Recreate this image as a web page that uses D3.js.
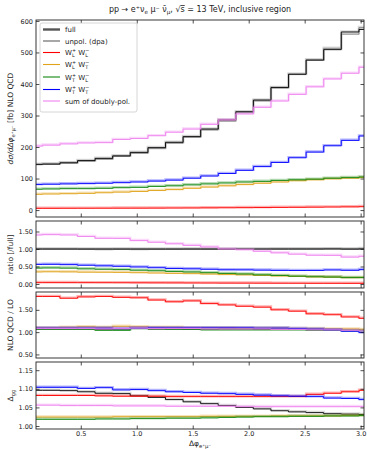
<!DOCTYPE html>
<html>
<head>
<meta charset="utf-8">
<script src="https://cdn.jsdelivr.net/npm/d3@7"></script>
<style>
  body { margin: 0; background: #fff; }
  text { font-family: "DejaVu Sans", sans-serif; fill: #222; }
</style>
</head>
<body>
<svg id="chart" width="367" height="449"></svg>
<script>
// bin edges of delta phi (20 bins of pi/20)
const binEdges = [0, 0.157, 0.314, 0.471, 0.628, 0.785, 0.942, 1.100, 1.257, 1.414, 1.571,
                  1.728, 1.885, 2.042, 2.199, 2.356, 2.513, 2.670, 2.827, 2.985, 3.142];

// NLO QCD distributions [fb]
const full  = [145, 146, 150, 157, 164, 172, 183, 198, 215, 233, 257, 286, 312, 349, 389, 431, 476, 509, 565, 573];
const unpol = [144, 145, 149, 155, 161, 170, 180, 195, 212, 231, 254, 282, 309, 346, 387, 430, 475, 513, 558, 579];
const wLL   = [5.5, 5.6, 5.7, 5.8, 5.9, 6.0, 6.1, 6.3, 6.5, 6.7, 7.0, 7.3, 7.6, 8.0, 8.4, 8.8, 9.2, 9.7, 10.2, 10.8];
const wLT   = [50, 51, 52, 53, 55, 57, 59, 62, 65, 69, 73, 77, 81, 85, 89, 93, 96, 99, 101, 103];
const wTL   = [66, 67, 68, 68, 69, 71, 72, 75, 77, 80, 83, 86, 89, 91, 94, 96, 98, 101, 103, 105];
const wTT   = [81, 82, 83, 84, 85, 87, 89, 92, 95, 101, 108, 116, 126, 138, 151, 166, 184, 204, 221, 235];
const sumPol = [203, 206, 210, 213, 214, 224, 227, 236, 247, 257, 272, 286, 305, 326, 346, 367, 391, 416, 434, 453];

// NLO QCD / LO
const kFull = [1.07, 1.07, 1.07, 1.07, 1.06, 1.07, 1.08, 1.07, 1.07, 1.06, 1.06, 1.07, 1.07, 1.06, 1.06, 1.06, 1.05, 1.05, 1.04, 1.04];
const kLL   = [1.80, 1.80, 1.76, 1.79, 1.80, 1.78, 1.77, 1.72, 1.68, 1.70, 1.64, 1.61, 1.58, 1.56, 1.50, 1.47, 1.41, 1.39, 1.34, 1.31];
const kLT   = [1.10, 1.10, 1.11, 1.12, 1.11, 1.13, 1.12, 1.11, 1.11, 1.10, 1.10, 1.10, 1.09, 1.09, 1.09, 1.08, 1.08, 1.07, 1.07, 1.06];
const kTL   = [1.06, 1.06, 1.06, 1.06, 1.04, 1.04, 1.08, 1.07, 1.06, 1.06, 1.05, 1.05, 1.05, 1.05, 1.05, 1.05, 1.04, 1.04, 1.03, 1.03];
const kTT   = [1.09, 1.09, 1.09, 1.09, 1.09, 1.08, 1.09, 1.10, 1.10, 1.10, 1.10, 1.10, 1.10, 1.09, 1.09, 1.08, 1.07, 1.05, 1.02, 0.99];
const kSum  = [1.08, 1.08, 1.08, 1.08, 1.07, 1.08, 1.09, 1.08, 1.08, 1.08, 1.07, 1.07, 1.07, 1.07, 1.06, 1.06, 1.05, 1.05, 1.04, 1.03];

// Delta_gg
const gFull = [1.096, 1.096, 1.095, 1.092, 1.088, 1.087, 1.081, 1.077, 1.071, 1.065, 1.060, 1.055, 1.050, 1.046, 1.041, 1.038, 1.036, 1.033, 1.032, 1.031];
const gLL   = [1.082, 1.082, 1.082, 1.082, 1.081, 1.080, 1.080, 1.080, 1.079, 1.079, 1.079, 1.079, 1.079, 1.079, 1.079, 1.079, 1.085, 1.088, 1.092, 1.096];
const gLT   = [1.024, 1.024, 1.024, 1.024, 1.024, 1.025, 1.025, 1.025, 1.025, 1.025, 1.026, 1.026, 1.026, 1.026, 1.027, 1.027, 1.027, 1.027, 1.028, 1.028];
const gTL   = [1.018, 1.018, 1.018, 1.018, 1.019, 1.019, 1.020, 1.020, 1.021, 1.021, 1.022, 1.023, 1.024, 1.025, 1.025, 1.026, 1.026, 1.027, 1.027, 1.028];
const gTT   = [1.104, 1.104, 1.104, 1.101, 1.103, 1.097, 1.098, 1.095, 1.092, 1.090, 1.088, 1.087, 1.085, 1.083, 1.081, 1.080, 1.079, 1.075, 1.074, 1.071];
const gSum  = [1.056, 1.056, 1.055, 1.055, 1.055, 1.054, 1.054, 1.054, 1.053, 1.053, 1.053, 1.053, 1.052, 1.052, 1.052, 1.052, 1.052, 1.052, 1.052, 1.052];

const xTicks = [0.5, 1.0, 1.5, 2.0, 2.5, 3.0];

const colors = {
    full: '#000000', unpol: '#8a8a8a', LL: '#ff0000', LT: '#e0a31a',
    TL: '#118811', TT: '#0000ff', sum: '#ee82ee'
};

const ratio = arr => arr.map((v, i) => v / full[i]);

const left = 36, right = 364;
const svg = d3.select('#chart');
const x = d3.scaleLinear().domain([0.1, 3.03]).range([left, right]);

const panels = [
    { top: 20, bottom: 217, domain: [-22, 603], ticks: [0, 100, 200, 300, 400, 500, 600], fmt: d3.format('d'),
      series: [['unpol', unpol], ['full', full], ['LL', wLL], ['LT', wLT], ['TL', wTL], ['TT', wTT], ['sum', sumPol]] },
    { top: 221, bottom: 288, domain: [-0.115, 1.8], ticks: [0, 0.5, 1.0, 1.5], fmt: d3.format('.2f'),
      series: [['unpol', ratio(unpol)], ['full', ratio(full)], ['LL', ratio(wLL)], ['LT', ratio(wLT)], ['TL', ratio(wTL)], ['TT', ratio(wTT)], ['sum', ratio(sumPol)]] },
    { top: 292, bottom: 358, domain: [0.42, 1.9], ticks: [0.5, 1.0, 1.5], fmt: d3.format('.2f'),
      series: [['full', kFull], ['LL', kLL], ['LT', kLT], ['TL', kTL], ['TT', kTT], ['sum', kSum]] },
    { top: 362, bottom: 429, domain: [0.992, 1.172], ticks: [1.00, 1.05, 1.10, 1.15], fmt: d3.format('.2f'),
      series: [['full', gFull], ['LL', gLL], ['LT', gLT], ['TL', gTL], ['TT', gTT], ['sum', gSum]] }
];

// text with sub/superscripts, parts: ['n',s] ['it',s] ['sub',s] ['sup',s] ['ss',sup,sub] ['ov',s]
function richText(g, px, py, parts, fs, anchor) {
    const t = g.append('text').attr('x', px).attr('y', py)
        .attr('font-size', fs).attr('text-anchor', anchor || 'start');
    let shift = 0;
    let pendingDx = 0;
    parts.forEach(p => {
        const kind = p[0];
        if (kind === 'n' || kind === 'it' || kind === 'ov') {
            const s = t.append('tspan').text(p[1]).attr('dy', -shift).attr('dx', pendingDx);
            if (kind === 'it') s.attr('font-style', 'italic');
            if (kind === 'ov') s.attr('text-decoration', 'overline');
            shift = 0; pendingDx = 0;
        } else if (kind === 'sub' || kind === 'sup') {
            const target = kind === 'sub' ? fs * 0.3 : -fs * 0.4;
            t.append('tspan').text(p[1]).attr('font-size', fs * 0.7)
                .attr('dy', target - shift).attr('dx', pendingDx);
            shift = target; pendingDx = 0;
        } else if (kind === 'ss') {
            const up = -fs * 0.42, down = fs * 0.32;
            const a = t.append('tspan').text(p[1]).attr('font-size', fs * 0.7)
                .attr('dy', up - shift).attr('dx', pendingDx);
            const la = a.node().getComputedTextLength();
            const b = t.append('tspan').text(p[2]).attr('font-size', fs * 0.7)
                .attr('dy', down - up).attr('dx', -la);
            const lb = b.node().getComputedTextLength();
            shift = down;
            pendingDx = Math.max(0, la - lb);
        }
    });
    return t;
}

const stepLine = (y) => d3.line()
    .x(d => x(d[0])).y(d => y(d[1]))
    .curve(d3.curveStepAfter);

const stepPoints = vals => vals.map((v, i) => [binEdges[i], v]).concat([[binEdges[vals.length], vals[vals.length - 1]]]);

panels.forEach((p, pi) => {
    const y = d3.scaleLinear().domain(p.domain).range([p.bottom, p.top]);
    const g = svg.append('g');
    const clipId = 'clip' + pi;
    svg.append('clipPath').attr('id', clipId).append('rect')
        .attr('x', left).attr('y', p.top).attr('width', right - left).attr('height', p.bottom - p.top);

    const lines = g.append('g').attr('clip-path', `url(#${clipId})`);
    const gen = stepLine(y);
    p.series.forEach(([key, vals]) => {
        const bandColor = key === 'full' ? '#888' : colors[key];
        lines.append('path')
            .attr('d', gen(stepPoints(vals)))
            .attr('fill', 'none')
            .attr('stroke', bandColor)
            .attr('stroke-opacity', 0.3)
            .attr('stroke-width', 2.4)
            .attr('transform', 'translate(0,-0.6)');
        lines.append('path')
            .attr('d', gen(stepPoints(vals)))
            .attr('fill', 'none')
            .attr('stroke', colors[key])
            .attr('stroke-width', 0.9);
    });

    // axes, ticks pointing inwards on all sides
    const yl = g.append('g').attr('transform', `translate(${left},0)`)
        .call(d3.axisLeft(y).tickValues(p.ticks).tickFormat(p.fmt).tickSizeInner(-3.5).tickSizeOuter(0).tickPadding(3));
    const yr = g.append('g').attr('transform', `translate(${right},0)`)
        .call(d3.axisRight(y).tickValues(p.ticks).tickFormat('').tickSizeInner(-3.5).tickSizeOuter(0));
    const xt = g.append('g').attr('transform', `translate(0,${p.top})`)
        .call(d3.axisTop(x).tickValues(xTicks).tickFormat('').tickSizeInner(-3.5).tickSizeOuter(0));
    const xb = g.append('g').attr('transform', `translate(0,${p.bottom})`)
        .call(d3.axisBottom(x).tickValues(xTicks)
            .tickFormat(pi === panels.length - 1 ? d3.format('.1f') : '')
            .tickSizeInner(-3.5).tickSizeOuter(0).tickPadding(2));
    [yl, yr, xt, xb].forEach(a => {
        a.select('.domain').remove();
        a.selectAll('line').attr('stroke', '#222').attr('stroke-width', 0.8);
        a.selectAll('text').attr('font-size', 6.5).attr('fill', '#333')
            .attr('font-family', '"DejaVu Sans", sans-serif');
    });

    g.append('rect')
        .attr('x', left).attr('y', p.top).attr('width', right - left).attr('height', p.bottom - p.top)
        .attr('fill', 'none').attr('stroke', '#222').attr('stroke-width', 0.9);
});

// axis labels
const ylabels = [
    [['it', 'dσ/dΔφ'], ['sub', 'e⁺μ⁻'], ['n', ' [fb] NLO QCD']],
    [['n', 'ratio [/full]']],
    [['n', 'NLO QCD / LO']],
    [['n', 'Δ'], ['sub', 'gg']]
];
panels.forEach((p, i) => {
    const cy = (p.top + p.bottom) / 2;
    const g = svg.append('g').attr('transform', `translate(13,${cy}) rotate(-90)`);
    richText(g, 0, 0, ylabels[i], 7.5, 'middle');
});

richText(svg, 200, 446, [['n', 'Δφ'], ['sub', 'e⁺μ⁻']], 7.5, 'middle');

richText(svg, 200, 12,
    [['n', 'pp → e⁺ν'], ['sub', 'e'], ['n', ' μ⁻ ν̄'], ['sub', 'μ'], ['n', ', √'], ['ov', 's'], ['n', ' = 13 TeV, inclusive region']],
    8, 'middle');

// legend
const legendItems = [
    ['full', [['n', 'full']]],
    ['unpol', [['n', 'unpol. (dpa)']]],
    ['LL', [['n', 'W'], ['ss', '+', 'L'], ['n', ' W'], ['ss', '−', 'L']]],
    ['LT', [['n', 'W'], ['ss', '+', 'L'], ['n', ' W'], ['ss', '−', 'T']]],
    ['TL', [['n', 'W'], ['ss', '+', 'T'], ['n', ' W'], ['ss', '−', 'L']]],
    ['TT', [['n', 'W'], ['ss', '+', 'T'], ['n', ' W'], ['ss', '−', 'T']]],
    ['sum', [['n', 'sum of doubly-pol.']]]
];
const leg = svg.append('g');
leg.append('rect').attr('x', 40).attr('y', 23).attr('width', 97).attr('height', 89).attr('rx', 2)
    .attr('fill', '#fff').attr('fill-opacity', 0.85).attr('stroke', '#cccccc').attr('stroke-width', 0.8);
const legY = [29.5, 41, 52.5, 64.5, 77, 89.5, 101];
legendItems.forEach(([key, parts], i) => {
    const yy = legY[i];
    const w = key === 'full' ? 2.4 : (key === 'unpol' ? 1.5 : 1.1);
    const c = key === 'full' ? '#555' : colors[key];
    leg.append('line').attr('x1', 43).attr('x2', 60).attr('y1', yy).attr('y2', yy)
        .attr('stroke', c).attr('stroke-width', w);
    richText(leg, 65, yy + 2.5, parts, 7, 'start');
});
</script>
</body>
</html>
